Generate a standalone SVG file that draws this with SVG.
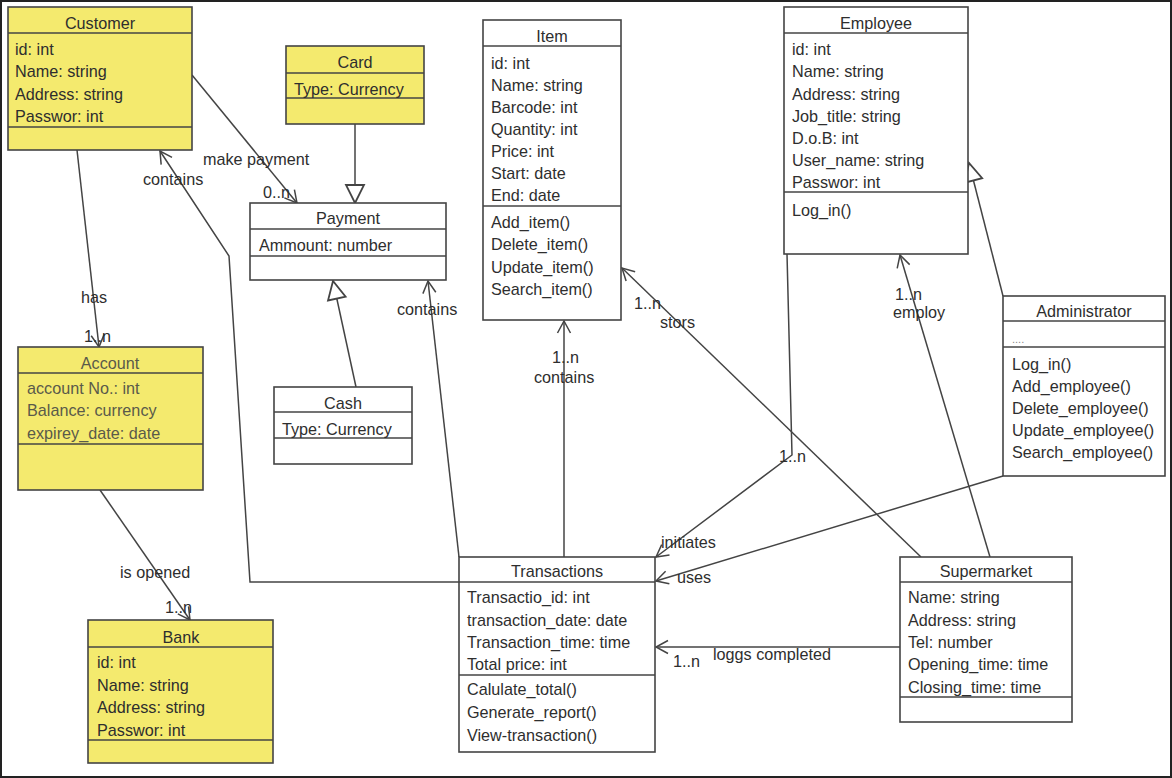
<svg xmlns="http://www.w3.org/2000/svg" width="1172" height="778" viewBox="0 0 1172 778">
<style>
.box{stroke:#444;stroke-width:1.6;fill:#fff}
.y{fill:#f4ea6e}
.sep{stroke:#444;stroke-width:1.6}
text{font-family:"Liberation Sans",Arial,sans-serif;font-size:16.2px;fill:#2e2e2e}
.t{text-anchor:middle}
.g text{fill:#5a5a4a}
.c{stroke:#444;stroke-width:1.5;fill:none}
</style>
<defs>
<marker id="open" markerUnits="userSpaceOnUse" markerWidth="20" markerHeight="20" refX="0" refY="0" viewBox="-14 -10 16 20" orient="auto">
<path d="M-12,-6.5 L0,0 L-12,6.5" fill="none" stroke="#444" stroke-width="1.5"/>
</marker>
<marker id="gen" markerUnits="userSpaceOnUse" markerWidth="24" markerHeight="24" refX="0" refY="0" viewBox="-18 -10 20 20" orient="auto">
<path d="M0,0 L-15,-7.5 L-15,7.5 Z" fill="#fff" stroke="#444" stroke-width="1.5"/>
</marker>
</defs>
<rect x="0" y="0" width="1172" height="778" fill="#fff"/>
<rect x="1" y="1" width="1170" height="776" fill="none" stroke="#222" stroke-width="2"/>

<g id="connectors">
<line class="c" x1="192" y1="75" x2="297" y2="203" marker-end="url(#open)"/>
<line class="c" x1="355" y1="124" x2="355" y2="203" marker-end="url(#gen)"/>
<line class="c" x1="356" y1="387" x2="333" y2="281" marker-end="url(#gen)"/>
<line class="c" x1="459" y1="557" x2="428" y2="281" marker-end="url(#open)"/>
<polyline class="c" points="459,582 250,582 229,256 160,151" marker-end="url(#open)"/>
<line class="c" x1="77" y1="150" x2="99" y2="347" marker-end="url(#open)"/>
<line class="c" x1="100" y1="490" x2="190" y2="620" marker-end="url(#open)"/>
<line class="c" x1="564" y1="557" x2="564" y2="321" marker-end="url(#open)"/>
<line class="c" x1="921" y1="557" x2="622" y2="268" marker-end="url(#open)"/>
<polyline class="c" points="787,254 792,455 656,557" marker-end="url(#open)"/>
<line class="c" x1="990" y1="557" x2="900" y2="255" marker-end="url(#open)"/>
<line class="c" x1="1003" y1="296" x2="969" y2="163" marker-end="url(#gen)"/>
<line class="c" x1="1003" y1="476" x2="656" y2="581" marker-end="url(#open)"/>
<line class="c" x1="900" y1="647" x2="656" y2="647" marker-end="url(#open)"/>
<text x="203" y="165">make payment</text>
<text x="263" y="198">0..n</text>
<text x="143" y="185">contains</text>
<text x="397" y="315">contains</text>
<text x="81" y="303">has</text>
<text x="84" y="342">1..n</text>
<text x="120" y="578">is opened</text>
<text x="165" y="613">1..n</text>
<text x="552" y="363">1..n</text>
<text x="534" y="383">contains</text>
<text x="634" y="309">1..n</text>
<text x="660" y="328">stors</text>
<text x="779" y="462">1..n</text>
<text x="661" y="548">initiates</text>
<text x="895" y="300">1..n</text>
<text x="893" y="318">employ</text>
<text x="677" y="583">uses</text>
<text x="673" y="667">1..n</text>
<text x="713" y="660">loggs completed</text>
</g>

<g id="customer">
<rect class="box y" x="8" y="7" width="184" height="143"/>
<line class="sep" x1="8" y1="33" x2="192" y2="33"/>
<line class="sep" x1="8" y1="127" x2="192" y2="127"/>
<text class="t" x="100" y="29">Customer</text>
<text x="15" y="55">id: int</text>
<text x="15" y="77">Name: string</text>
<text x="15" y="100">Address: string</text>
<text x="15" y="122">Passwor: int</text>
</g>

<g id="card">
<rect class="box y" x="286" y="46" width="138" height="78"/>
<line class="sep" x1="286" y1="73" x2="424" y2="73"/>
<line class="sep" x1="286" y1="98" x2="424" y2="98"/>
<text class="t" x="355" y="68">Card</text>
<text x="294" y="95">Type: Currency</text>
</g>

<g id="payment">
<rect class="box" x="250" y="203" width="196" height="77"/>
<line class="sep" x1="250" y1="229" x2="446" y2="229"/>
<line class="sep" x1="250" y1="256" x2="446" y2="256"/>
<text class="t" x="348" y="224">Payment</text>
<text x="259" y="251">Ammount: number</text>
</g>

<g id="item">
<rect class="box" x="483" y="20" width="138" height="300"/>
<line class="sep" x1="483" y1="46" x2="621" y2="46"/>
<line class="sep" x1="483" y1="206" x2="621" y2="206"/>
<text class="t" x="552" y="42">Item</text>
<text x="491" y="69">id: int</text>
<text x="491" y="91">Name: string</text>
<text x="491" y="113">Barcode: int</text>
<text x="491" y="135">Quantity: int</text>
<text x="491" y="157">Price: int</text>
<text x="491" y="179">Start: date</text>
<text x="491" y="201">End: date</text>
<text x="491" y="228">Add_item()</text>
<text x="491" y="250">Delete_item()</text>
<text x="491" y="273">Update_item()</text>
<text x="491" y="295">Search_item()</text>
</g>

<g id="employee">
<rect class="box" x="784" y="7" width="184" height="247"/>
<line class="sep" x1="784" y1="33" x2="968" y2="33"/>
<line class="sep" x1="784" y1="192" x2="968" y2="192"/>
<text class="t" x="876" y="29">Employee</text>
<text x="792" y="55">id: int</text>
<text x="792" y="77">Name: string</text>
<text x="792" y="100">Address: string</text>
<text x="792" y="122">Job_title: string</text>
<text x="792" y="144">D.o.B: int</text>
<text x="792" y="166">User_name: string</text>
<text x="792" y="188">Passwor: int</text>
<text x="792" y="216">Log_in()</text>
</g>

<g id="administrator">
<rect class="box" x="1003" y="296" width="162" height="180"/>
<line class="sep" x1="1003" y1="321" x2="1165" y2="321"/>
<line class="sep" x1="1003" y1="347" x2="1165" y2="347"/>
<text class="t" x="1084" y="317">Administrator</text>
<text x="1012" y="343" style="font-size:11px;fill:#888">....</text>
<text x="1012" y="370">Log_in()</text>
<text x="1012" y="392">Add_employee()</text>
<text x="1012" y="414">Delete_employee()</text>
<text x="1012" y="436">Update_employee()</text>
<text x="1012" y="458">Search_employee()</text>
</g>

<g id="account" class="g">
<rect class="box y" x="18" y="347" width="185" height="143"/>
<line class="sep" x1="18" y1="373" x2="203" y2="373"/>
<line class="sep" x1="18" y1="444" x2="203" y2="444"/>
<text class="t" x="110" y="369">Account</text>
<text x="27" y="394">account No.: int</text>
<text x="27" y="416">Balance: currency</text>
<text x="27" y="439">expirey_date: date</text>
</g>

<g id="cash">
<rect class="box" x="274" y="387" width="138" height="77"/>
<line class="sep" x1="274" y1="412" x2="412" y2="412"/>
<line class="sep" x1="274" y1="438" x2="412" y2="438"/>
<text class="t" x="343" y="409">Cash</text>
<text x="282" y="435">Type: Currency</text>
</g>

<g id="bank">
<rect class="box y" x="88" y="620" width="185" height="143"/>
<line class="sep" x1="88" y1="647" x2="273" y2="647"/>
<line class="sep" x1="88" y1="740" x2="273" y2="740"/>
<text class="t" x="181" y="643">Bank</text>
<text x="97" y="668">id: int</text>
<text x="97" y="691">Name: string</text>
<text x="97" y="713">Address: string</text>
<text x="97" y="736">Passwor: int</text>
</g>

<g id="transactions">
<rect class="box" x="459" y="557" width="196" height="195"/>
<line class="sep" x1="459" y1="582" x2="655" y2="582"/>
<line class="sep" x1="459" y1="675" x2="655" y2="675"/>
<text class="t" x="557" y="577">Transactions</text>
<text x="467" y="603">Transactio_id: int</text>
<text x="467" y="626">transaction_date: date</text>
<text x="467" y="648">Transaction_time: time</text>
<text x="467" y="670">Total price: int</text>
<text x="467" y="695">Calulate_total()</text>
<text x="467" y="718">Generate_report()</text>
<text x="467" y="741">View-transaction()</text>
</g>

<g id="supermarket">
<rect class="box" x="900" y="557" width="172" height="165"/>
<line class="sep" x1="900" y1="582" x2="1072" y2="582"/>
<line class="sep" x1="900" y1="697" x2="1072" y2="697"/>
<text class="t" x="986" y="577">Supermarket</text>
<text x="908" y="603">Name: string</text>
<text x="908" y="626">Address: string</text>
<text x="908" y="648">Tel: number</text>
<text x="908" y="670">Opening_time: time</text>
<text x="908" y="693">Closing_time: time</text>
</g>
</svg>
